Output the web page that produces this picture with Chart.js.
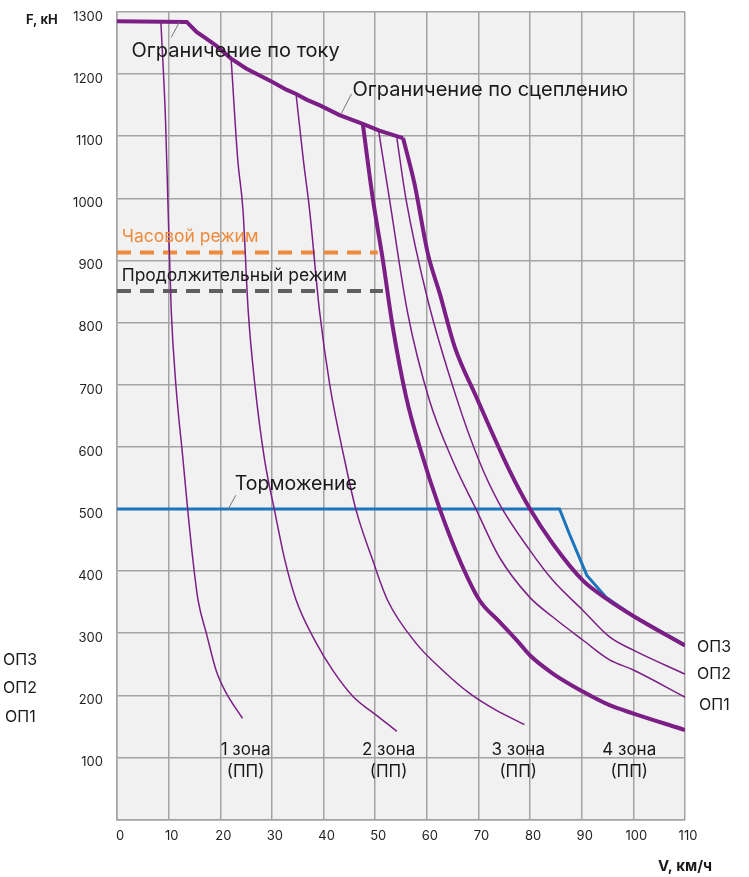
<!DOCTYPE html>
<html><head><meta charset="utf-8">
<script src="https://cdn.jsdelivr.net/npm/chart.js@4/dist/chart.umd.min.js"></script>
<style>html,body{margin:0;padding:0;background:#fff;}#wrap{position:relative;width:749px;height:877px;}</style>
</head><body><div id="wrap"><canvas id="c" width="749" height="877"></canvas></div>
<script>
// ---- data ----
const xTickValues = [0,10,20,30,40,50,60,70,80,90,100,110];
const yTickValues = [0,100,200,300,400,500,600,700,800,900,1000,1100,1200,1300];

// current limit + adhesion limit
const limV = [0,13.5,15.4,17.3,19.2,22.1,25.0,30.2,32.8,34.7,36.7,39.2,43.1,47.6,50.8,55.4];
const limF = [1285,1284,1268,1257,1246,1225,1209,1187,1175,1168,1159,1150,1134,1120,1109,1097];
// ОП3 (thick)
const op3V = [55.4,57.6,60.2,62.5,65.4,69.6,76,79.9,84.4,90.2,94.7,99.9,110];
const op3F = [1097,1024,911,847,761,680,562,501,444,385,356,328,280];
// ОП1 (thick)
const op1V = [47.6,49.5,51.5,53.4,56.0,58.6,62.5,66.5,70.2,74,77.9,80,84.4,90.2,95.4,99.9,110];
const op1F = [1120,1002,900,793,680,600,500,415,353,319,284,264,235,206,184,171,144];
// intermediate thin curves
const opLowV = [50.7,52.8,56.3,60.5,65,69.5,74,79.9,84.4,90.2,95.4,99.9,110];
const opLowF = [1107,997,815,675,578,500,423,358,326,289,257,241,197];
const op2V = [54.2,56,60.2,65.7,70,74,79.9,84.4,90.2,95.4,99.9,110];
const op2F = [1097,997,836,680,580,509,434,385,337,294,273,234];
// zone curves
const zone1V = [8.5,9.4,9.9,10.5,11.4,12.8,13.7,14.7,15.7,17.3,19.2,21.2,24.3];
const zone1F = [1284,1125,981,820,700,578,498,418,353,300,240,203,163];
const zone2V = [22.1,23.4,24.4,25.4,26.7,28.6,30.5,32.5,34.7,38.6,41.8,45.7,50.2,54.2];
const zone2F = [1225,1061,981,820,700,578,498,418,353,284,240,198,168,142];
const zone3V = [34.7,36.1,37.3,39.2,41.2,44.1,46.3,49.5,52.4,57.9,63.1,68.3,73.4,78.9];
const zone3F = [1166,1061,981,820,700,578,498,418,353,284,240,203,176,153];
// braking
const brakeV = [0,85.7,87.6,91,94.7,99.9,110];
const brakeF = [500,500,460,393,358,328,281];
// regimes
const hourV = [0,50.5];
const hourF = [913,913];
const contV = [0,51.5];
const contF = [851,851];

const zoneNames = ['1 зона','2 зона','3 зона','4 зона'];
const zoneCenters = [24.9,52.6,77.7,99.2];

// ---- build ----
const pts = (V,F) => V.map((v,i)=>({x:v,y:F[i]}));
const PURPLE = '#7b1f86';
const FONT = 'Inter, "Noto Sans", sans-serif';

function ds(V,F,color,width,extra){
  return Object.assign({data:pts(V,F),borderColor:color,borderWidth:width,pointRadius:0,fill:false,tension:0},extra||{});
}
const smooth = {cubicInterpolationMode:'monotone'};

const bgPlugin = {
  id:'bg',
  beforeDraw(chart){
    const {ctx,chartArea:a}=chart;
    ctx.save();ctx.fillStyle='#f1f1f1';ctx.fillRect(a.left,a.top,a.right-a.left,a.bottom-a.top);ctx.restore();
  }
};

const textPlugin = {
  id:'texts',
  afterDraw(chart){
    const {ctx}=chart; const xs=chart.scales.x, ys=chart.scales.y;
    const X=v=>xs.getPixelForValue(v), Y=v=>ys.getPixelForValue(v);
    ctx.save();
    ctx.strokeStyle='#777';ctx.lineWidth=1;
    const lead=(a,b,c,d)=>{ctx.beginPath();ctx.moveTo(X(a),Y(b));ctx.lineTo(X(c),Y(d));ctx.stroke();};
    lead(10.5,1259,12.1,1284);
    lead(43.4,1136,45.4,1168);
    lead(21.5,499,23,522);
    ctx.textBaseline='middle';
    ctx.fillStyle='#1a1a1a';
    ctx.font='20px '+FONT; ctx.textAlign='left';
    ctx.fillText('Ограничение по току',X(2.8),Y(1238));
    ctx.fillText('Ограничение по сцеплению',X(45.6),Y(1174));
    ctx.font='19.5px '+FONT;
    ctx.fillText('Торможение',X(22.8),Y(540));
    ctx.font='17.5px '+FONT;
    ctx.fillStyle='#ef8a3a';
    ctx.fillText('Часовой режим',X(0.9),Y(939));
    ctx.fillStyle='#1a1a1a';
    ctx.fillText('Продолжительный режим',X(0.9),Y(876));
    ctx.font='17px '+FONT; ctx.textAlign='center';
    zoneNames.forEach((n,i)=>{
      ctx.fillText(n,X(zoneCenters[i]),Y(112));
      ctx.fillText('(ПП)',X(zoneCenters[i]),Y(76));
    });
    ctx.font='16px '+FONT; ctx.textAlign='left';
    ctx.fillText('ОП3',697,647); ctx.fillText('ОП2',697,674); ctx.fillText('ОП1',699,705);
    ctx.fillText('ОП3',3,660); ctx.fillText('ОП2',3,688); ctx.fillText('ОП1',5,717);
    ctx.font='bold 13px '+FONT;
    ctx.textAlign='left'; ctx.fillText('F, кН',26,20);
    ctx.font='bold 15px '+FONT;
    ctx.textAlign='right'; ctx.fillText('V, км/ч',712,866);
    ctx.restore();
  }
};

new Chart(document.getElementById('c'),{
  type:'line',
  data:{datasets:[
    ds(zone1V,zone1F,PURPLE,1.5,smooth),
    ds(zone2V,zone2F,PURPLE,1.5,smooth),
    ds(zone3V,zone3F,PURPLE,1.5,smooth),
    ds(opLowV,opLowF,PURPLE,1.5,smooth),
    ds(op2V,op2F,PURPLE,1.5,smooth),
    ds(op1V,op1F,PURPLE,4,smooth),
    ds(op3V,op3F,PURPLE,4,smooth),
    ds(limV,limF,PURPLE,4),
    ds(hourV,hourF,'#ef8a3a',4,{borderDash:[14,9]}),
    ds(contV,contF,'#5f5f5f',4,{borderDash:[14,9]}),
    ds(brakeV,brakeF,'#1c75bc',3)
  ]},
  options:{
    responsive:false,animation:false,devicePixelRatio:1,
    layout:{padding:{top:12,right:64,left:0,bottom:0}},
    plugins:{legend:{display:false},tooltip:{enabled:false}},
    scales:{
      x:{type:'linear',min:0,max:110,
        afterBuildTicks:s=>{s.ticks=xTickValues.map(v=>({value:v}));},
        afterFit:s=>{s.height=57.5;},
        grid:{color:'#a3a3a3',lineWidth:1.5,drawTicks:true,tickLength:9,tickColor:'rgba(0,0,0,0)'},
        border:{color:'#a3a3a3',width:1.5},
        ticks:{padding:0,labelOffset:3,color:'#222',font:{family:FONT,size:13},maxRotation:0,autoSkip:false}
      },
      y:{type:'linear',min:0,max:1300,
        afterBuildTicks:s=>{s.ticks=yTickValues.map(v=>({value:v}));},
        afterFit:s=>{s.width=117;},
        grid:{color:'#a3a3a3',lineWidth:1.5,drawTicks:true,tickLength:14,tickColor:'rgba(0,0,0,0)'},
        border:{color:'#a3a3a3',width:1.5},
        ticks:{padding:0,labelOffset:5,color:'#222',font:{family:FONT,size:13},autoSkip:false,
          callback:v=>v===0?'':String(v)}
      }
    }
  },
  plugins:[bgPlugin,textPlugin]
});
</script></body></html>
